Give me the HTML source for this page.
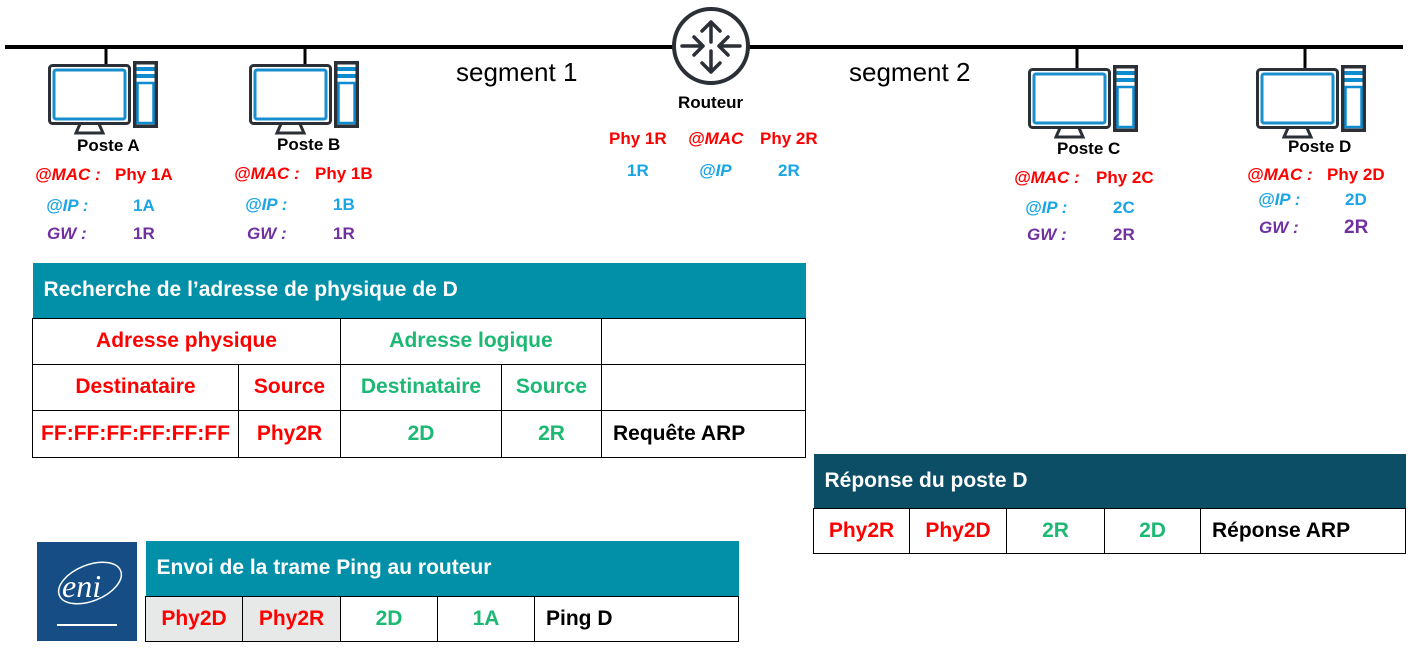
<!DOCTYPE html>
<html><head><meta charset="utf-8">
<style>
body{margin:0;width:1420px;height:655px;background:#fff;position:relative;overflow:hidden;font-family:"Liberation Sans","DejaVu Sans",sans-serif;}
.t{position:absolute;font-weight:bold;white-space:nowrap;line-height:1;}
.r{color:#ff0000}.b{color:#1aa5e6}.p{color:#7030a0}.k{color:#000}.g{color:#1db874}
.i{font-style:italic}
.s16{font-size:17px}
table{position:absolute;border-collapse:collapse;font-weight:bold;font-size:21px;}
td{border:1.5px solid #000;text-align:center;padding:0;}
td.h{color:#fff;text-align:left;padding-left:11px;border:none}
</style></head><body>
<svg width="1420" height="655" style="position:absolute;left:0;top:0">
<defs>
<g id="pc">
<rect x="1.5" y="1.5" width="80" height="58" rx="3" fill="#fff" stroke="#2b2f36" stroke-width="3"/>
<rect x="6" y="6" width="71" height="49" rx="2" fill="#fff" stroke="#1a8fd0" stroke-width="3"/>
<path d="M32 60 L28 69 L55 69 L51 60" fill="none" stroke="#2b2f36" stroke-width="3"/>
<rect x="85" y="-3" width="25" height="67" fill="#2b2f36"/>
<rect x="88.5" y="0.5" width="18" height="60" fill="#fff"/>
<rect x="88.5" y="3" width="18" height="4" fill="#0e8ccf"/>
<rect x="88.5" y="10" width="18" height="4" fill="#0e8ccf"/>
<rect x="89.5" y="19" width="16" height="40" fill="#fff" stroke="#0e8ccf" stroke-width="2.5"/>
</g>
</defs>
<line x1="5" y1="47" x2="1403" y2="47" stroke="#000" stroke-width="4"/>
<line x1="106" y1="47" x2="106" y2="72" stroke="#000" stroke-width="3"/>
<line x1="305" y1="47" x2="305" y2="72" stroke="#000" stroke-width="3"/>
<line x1="1077" y1="47" x2="1077" y2="73" stroke="#000" stroke-width="3"/>
<line x1="1305" y1="47" x2="1305" y2="73" stroke="#000" stroke-width="3"/>
<use href="#pc" x="48" y="64"/>
<use href="#pc" x="249" y="64"/>
<use href="#pc" x="1028" y="68"/>
<use href="#pc" x="1256" y="68"/>
<circle cx="711" cy="46" r="37" fill="#fff" stroke="#2b2f36" stroke-width="4"/>
<g stroke="#2b2f36" stroke-width="3.5" fill="none" stroke-linecap="round" stroke-linejoin="round">
<path d="M711 22 V42 M702 31 L711 22 L720 31"/>
<path d="M711 51 V72 M702 63 L711 72 L720 63"/>
<path d="M682 46 H703 M694 37 L703 46 L694 55"/>
<path d="M740 46 H719 M728 37 L719 46 L728 55"/>
</g>
<rect x="37" y="542" width="100" height="99" fill="#154d84"/>
<ellipse cx="90" cy="583" rx="33" ry="18" fill="none" stroke="#fff" stroke-width="1.5" transform="rotate(-22 90 583)"/>
<text x="62" y="597" fill="#fff" font-family="Liberation Serif" font-style="italic" font-size="32">eni</text>
<line x1="57" y1="625" x2="117" y2="625" stroke="#fff" stroke-width="2"/>
</svg>

<div class="t" style="left:456px;top:59px;font-size:26px;font-weight:normal">segment 1</div>
<div class="t" style="left:849px;top:59px;font-size:26px;font-weight:normal">segment 2</div>

<div class="t k s16" style="left:77px;top:137px">Poste A</div>
<div class="t r i s16" style="left:35px;top:166px">@MAC :</div><div class="t r s16" style="left:115px;top:166px">Phy 1A</div>
<div class="t b i s16" style="left:46px;top:197px">@IP :</div><div class="t b s16" style="left:133px;top:197px">1A</div>
<div class="t p i s16" style="left:47px;top:225px">GW :</div><div class="t p s16" style="left:133px;top:225px">1R</div>

<div class="t k s16" style="left:277px;top:136px">Poste B</div>
<div class="t r i s16" style="left:234px;top:165px">@MAC :</div><div class="t r s16" style="left:315px;top:165px">Phy 1B</div>
<div class="t b i s16" style="left:245px;top:196px">@IP :</div><div class="t b s16" style="left:333px;top:196px">1B</div>
<div class="t p i s16" style="left:247px;top:225px">GW :</div><div class="t p s16" style="left:333px;top:225px">1R</div>

<div class="t k s16" style="left:678px;top:94px">Routeur</div>
<div class="t r s16" style="left:609px;top:130px">Phy 1R</div>
<div class="t r i s16" style="left:688px;top:130px">@MAC</div>
<div class="t r s16" style="left:760px;top:130px">Phy 2R</div>
<div class="t b s16" style="left:627px;top:162px">1R</div>
<div class="t b i s16" style="left:699px;top:162px">@IP</div>
<div class="t b s16" style="left:778px;top:162px">2R</div>

<div class="t k s16" style="left:1057px;top:140px">Poste C</div>
<div class="t r i s16" style="left:1014px;top:169px">@MAC :</div><div class="t r s16" style="left:1096px;top:169px">Phy 2C</div>
<div class="t b i s16" style="left:1025px;top:199px">@IP :</div><div class="t b s16" style="left:1113px;top:199px">2C</div>
<div class="t p i s16" style="left:1027px;top:226px">GW :</div><div class="t p s16" style="left:1113px;top:226px">2R</div>

<div class="t k s16" style="left:1288px;top:138px">Poste D</div>
<div class="t r i s16" style="left:1247px;top:166px">@MAC :</div><div class="t r s16" style="left:1327px;top:166px">Phy 2D</div>
<div class="t b i s16" style="left:1258px;top:191px">@IP :</div><div class="t b s16" style="left:1345px;top:191px">2D</div>
<div class="t p i s16" style="left:1259px;top:219px">GW :</div><div class="t p" style="left:1344px;top:218px;font-size:19px">2R</div>

<table style="left:32px;top:263px;width:774px">
<tr style="height:55px"><td class="h" colspan="5" style="background:#0290a8">Recherche de l’adresse de physique de D</td></tr>
<tr style="height:46px"><td colspan="2" class="r">Adresse physique</td><td colspan="2" class="g">Adresse logique</td><td style="width:203px"></td></tr>
<tr style="height:46px"><td class="r" style="width:205px">Destinataire</td><td class="r" style="width:101px">Source</td><td class="g" style="width:160px">Destinataire</td><td class="g" style="width:99px">Source</td><td></td></tr>
<tr style="height:47px"><td class="r">FF:FF:FF:FF:FF:FF</td><td class="r">Phy2R</td><td class="g">2D</td><td class="g">2R</td><td class="k" style="text-align:left;padding-left:11px">Requête ARP</td></tr>
</table>

<table style="left:813px;top:454px;width:593px">
<tr style="height:54px"><td class="h" colspan="5" style="background:#0b4e66">Réponse du poste D</td></tr>
<tr style="height:45px"><td class="r" style="width:95px">Phy2R</td><td class="r" style="width:96px">Phy2D</td><td class="g" style="width:97px">2R</td><td class="g" style="width:95px">2D</td><td class="k" style="text-align:left;padding-left:11px">Réponse ARP</td></tr>
</table>

<table style="left:145px;top:541px;width:594px">
<tr style="height:55px"><td class="h" colspan="5" style="background:#0290a8">Envoi de la trame Ping au routeur</td></tr>
<tr style="height:45px"><td class="r" style="width:96px;background:#e7e8e8">Phy2D</td><td class="r" style="width:97px;background:#e7e8e8">Phy2R</td><td class="g" style="width:96px">2D</td><td class="g" style="width:96px">1A</td><td class="k" style="text-align:left;padding-left:11px">Ping D</td></tr>
</table>
</body></html>
